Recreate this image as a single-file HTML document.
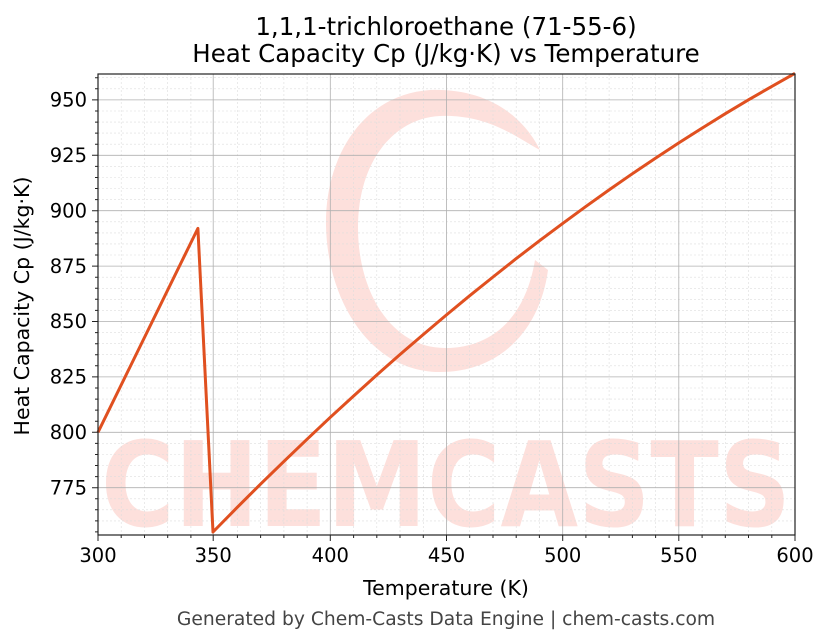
<!DOCTYPE html>
<html><head><meta charset="utf-8"><style>body{margin:0;background:#fff}svg{display:block;font-family:"DejaVu Sans","Liberation Sans",sans-serif}</style></head><body>
<svg width="830" height="644" viewBox="0 0 830 644" xmlns="http://www.w3.org/2000/svg">
<rect width="830" height="644" fill="#fff"/>
<g fill="#fde0dc">
<path d="M430 90 C360 95 325 160 326 225 C327 300 370 372 440 372 C500 372 540 330 548 270 L535 260 C525 320 490 348 445 348 C390 348 358 290 358 228 C358 160 395 118 440 116 C490 114 520 140 540 150 C520 110 480 88 430 90Z"/>
<text x="446" y="526" font-size="118" font-weight="bold" text-anchor="middle" textLength="690" lengthAdjust="spacingAndGlyphs" font-family="DejaVu Sans,sans-serif">CHEMCASTS</text>
</g>
<g stroke="#ddd" stroke-width="0.6" stroke-dasharray="2,2">
<path d="M121.2 74V535M144.5 74V535M167.7 74V535M190.9 74V535M237.4 74V535M260.6 74V535M283.9 74V535M307.1 74V535M353.6 74V535M376.8 74V535M400 74V535M423.3 74V535M469.7 74V535M493 74V535M516.2 74V535M539.4 74V535M585.9 74V535M609.1 74V535M632.4 74V535M655.6 74V535M702.1 74V535M725.3 74V535M748.5 74V535M771.8 74V535"/>
<path d="M98 520.9H795M98 509.8H795M98 498.8H795M98 476.6H795M98 465.5H795M98 454.5H795M98 443.4H795M98 421.2H795M98 410.1H795M98 399.1H795M98 388H795M98 365.8H795M98 354.7H795M98 343.7H795M98 332.6H795M98 310.4H795M98 299.3H795M98 288.3H795M98 277.2H795M98 255H795M98 243.9H795M98 232.9H795M98 221.8H795M98 199.6H795M98 188.5H795M98 177.5H795M98 166.4H795M98 144.2H795M98 133.1H795M98 122.1H795M98 111H795M98 88.8H795M98 77.7H795"/>
</g>
<g stroke="#b0b0b0" stroke-width="0.8">
<path d="M213.2 74V535M330.3 74V535M446.5 74V535M562.7 74V535M678.8 74V535"/>
<path d="M98 487.7H795M98 432.3H795M98 376.9H795M98 321.5H795M98 266.1H795M98 210.7H795M98 155.3H795M98 99.9H795"/>
</g>
<polyline fill="none" stroke="#e05020" stroke-width="3" stroke-linejoin="round" points="98,432.3 197.9,228.4 213,532 237.4,507.2 260.6,484.1 283.9,461.4 307.1,439.2 330.3,417.3 353.6,396.0 376.8,375.0 400,354.5 423.3,334.5 446.5,314.9 469.7,295.7 493,277.0 516.2,258.6 539.4,240.8 562.7,223.4 585.9,206.4 609.1,189.9 632.4,173.7 655.6,158.1 678.8,142.9 702.1,128.1 725.3,113.7 748.5,99.8 771.8,86.4 795,73.3"/>
<rect x="98" y="74" width="697" height="461" fill="none" stroke="#222" stroke-width="1.2"/>
<g stroke="#222" stroke-width="1">
<path d="M98 535v6M213.2 535v6M330.3 535v6M446.5 535v6M562.7 535v6M678.8 535v6M795 535v6"/>
<path d="M121.2 535v3M144.5 535v3M167.7 535v3M190.9 535v3M237.4 535v3M260.6 535v3M283.9 535v3M307.1 535v3M353.6 535v3M376.8 535v3M400 535v3M423.3 535v3M469.7 535v3M493 535v3M516.2 535v3M539.4 535v3M585.9 535v3M609.1 535v3M632.4 535v3M655.6 535v3M702.1 535v3M725.3 535v3M748.5 535v3M771.8 535v3"/>
<path d="M98 487.7h-6M98 432.3h-6M98 376.9h-6M98 321.5h-6M98 266.1h-6M98 210.7h-6M98 155.3h-6M98 99.9h-6"/>
<path d="M98 531.9h-3M98 520.9h-3M98 509.8h-3M98 498.8h-3M98 476.6h-3M98 465.5h-3M98 454.5h-3M98 443.4h-3M98 421.2h-3M98 410.1h-3M98 399.1h-3M98 388h-3M98 365.8h-3M98 354.7h-3M98 343.7h-3M98 332.6h-3M98 310.4h-3M98 299.3h-3M98 288.3h-3M98 277.2h-3M98 255h-3M98 243.9h-3M98 232.9h-3M98 221.8h-3M98 199.6h-3M98 188.5h-3M98 177.5h-3M98 166.4h-3M98 144.2h-3M98 133.1h-3M98 122.1h-3M98 111h-3M98 88.8h-3M98 77.7h-3"/>
</g>
<g font-size="19.5" fill="#000" text-anchor="middle">
<text x="98" y="562">300</text><text x="213.2" y="562">350</text><text x="330.3" y="562">400</text><text x="446.5" y="562">450</text><text x="562.7" y="562">500</text><text x="678.8" y="562">550</text><text x="795" y="562">600</text>
</g>
<g font-size="19.5" fill="#000" text-anchor="end">
<text x="87" y="494.5">775</text><text x="87" y="439">800</text><text x="87" y="383.6">825</text><text x="87" y="328.2">850</text><text x="87" y="272.8">875</text><text x="87" y="217.4">900</text><text x="87" y="162">925</text><text x="87" y="106.6">950</text>
</g>
<text x="446" y="595" font-size="20.5" text-anchor="middle">Temperature (K)</text>
<text transform="translate(29,306) rotate(-90)" font-size="20.5" text-anchor="middle">Heat Capacity Cp (J/kg·K)</text>
<text x="446" y="35" font-size="24.5" text-anchor="middle">1,1,1-trichloroethane (71-55-6)</text>
<text x="446" y="62" font-size="24.5" text-anchor="middle">Heat Capacity Cp (J/kg·K) vs Temperature</text>
<text x="446" y="625" font-size="18.7" fill="#444" text-anchor="middle">Generated by Chem-Casts Data Engine | chem-casts.com</text>
</svg>
</body></html>
